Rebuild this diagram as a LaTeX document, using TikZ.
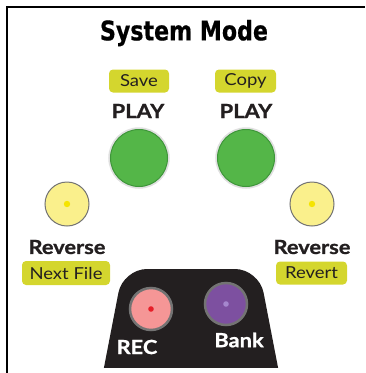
\documentclass[tikz,border=0pt]{standalone}
\usepackage{fontspec}
\setmainfont{Lato}[FakeStretch=1.12, BoldFeatures={FakeBold=1}]
\newfontfamily\headfont{DejaVu Sans}[BoldFeatures={FakeBold=0.6}]
\usetikzlibrary{positioning}
\definecolor{TagYellow}{RGB}{212,214,46}
\definecolor{PlayGreen}{RGB}{84,182,72}
\definecolor{PlayEdge}{RGB}{62,150,58}
\definecolor{RevYellow}{RGB}{250,240,140}
\definecolor{DotYellow}{RGB}{245,228,0}
\definecolor{RecPink}{RGB}{245,150,150}
\definecolor{RecDot}{RGB}{230,30,40}
\definecolor{BankPurple}{RGB}{125,80,160}
\definecolor{BankDot}{RGB}{165,135,205}
\definecolor{InkGray}{RGB}{35,31,32}

\begin{document}
\begin{tikzpicture}[x=1pt, y=-1pt,
	tag/.style={fill=TagYellow, rounded corners=4pt, inner sep=0pt, minimum height=23pt, text=InkGray, font=\fontsize{16.5}{16.5}\selectfont},
	bigword/.style={text=InkGray, font=\bfseries\fontsize{19.5}{19.5}\selectfont},
	playbtn/.style={circle, minimum size=57pt, fill=PlayGreen, draw=PlayEdge, line width=1pt, preaction={draw=black!12, line width=4.5pt}},
	revbtn/.style={circle, minimum size=44pt, fill=RevYellow, draw=black!55, line width=1pt},
	panelbtn/.style={circle, minimum size=42pt, draw=black!55, line width=2.5pt}
	]
	\useasboundingbox (0,0) rectangle (365,373);
	% frame, only top and left edges show
	\draw[line width=2.6pt] (7,373) -- (7,7) -- (365,7);
	\node (title) at (184,33) {\scalebox{0.82}[1]{\headfont\bfseries\fontsize{27}{27}\selectfont System Mode}};
	% play buttons
	\node[tag, minimum width=60pt] (save) at (139,81) {Save};
	\node[tag, minimum width=61pt] (copy) at (245.5,81) {Copy};
	\node[bigword] (playL) at (138,111) {PLAY};
	\node[bigword] (playR) at (246,111) {PLAY};
	\node[playbtn] (greenL) at (139,158) {};
	\node[playbtn] (greenR) at (246,158) {};
	% reverse buttons
	\node[revbtn] (revL) at (67,204) {};
	\node[revbtn] (revR) at (312,204) {};
	\foreach \b in {revL, revR}
	\fill[DotYellow] (\b) circle (3.2pt);
	\node[bigword] (reverseL) at (67,247) {Reverse};
	\node[bigword] (reverseR) at (312,247) {Reverse};
	\node[tag, minimum width=88pt, minimum height=24pt] (nextfile) at (66,273) {Next File};
	\node[tag, minimum width=71pt] (revert) at (311.5,273) {Revert};
	% black panel with rec and bank
	\begin{scope}
		\clip (0,0) rectangle (365,367);
		\fill[InkGray, rounded corners=24pt] (97.7,400) -- (123,269) -- (259,269) -- (284.3,400) -- cycle;
	\end{scope}
	\node[panelbtn, fill=RecPink] (rec) at (151,309) {};
	\node[panelbtn, fill=BankPurple] (bank) at (226,304) {};
	\fill[RecDot] (rec) circle (2.8pt);
	\fill[BankDot] (bank) circle (2.8pt);
	\node[bigword, text=white] (reclabel) at (137,347) {REC};
	\node[bigword, text=white] (banklabel) at (239,340) {Bank};
\end{tikzpicture}
\end{document}
